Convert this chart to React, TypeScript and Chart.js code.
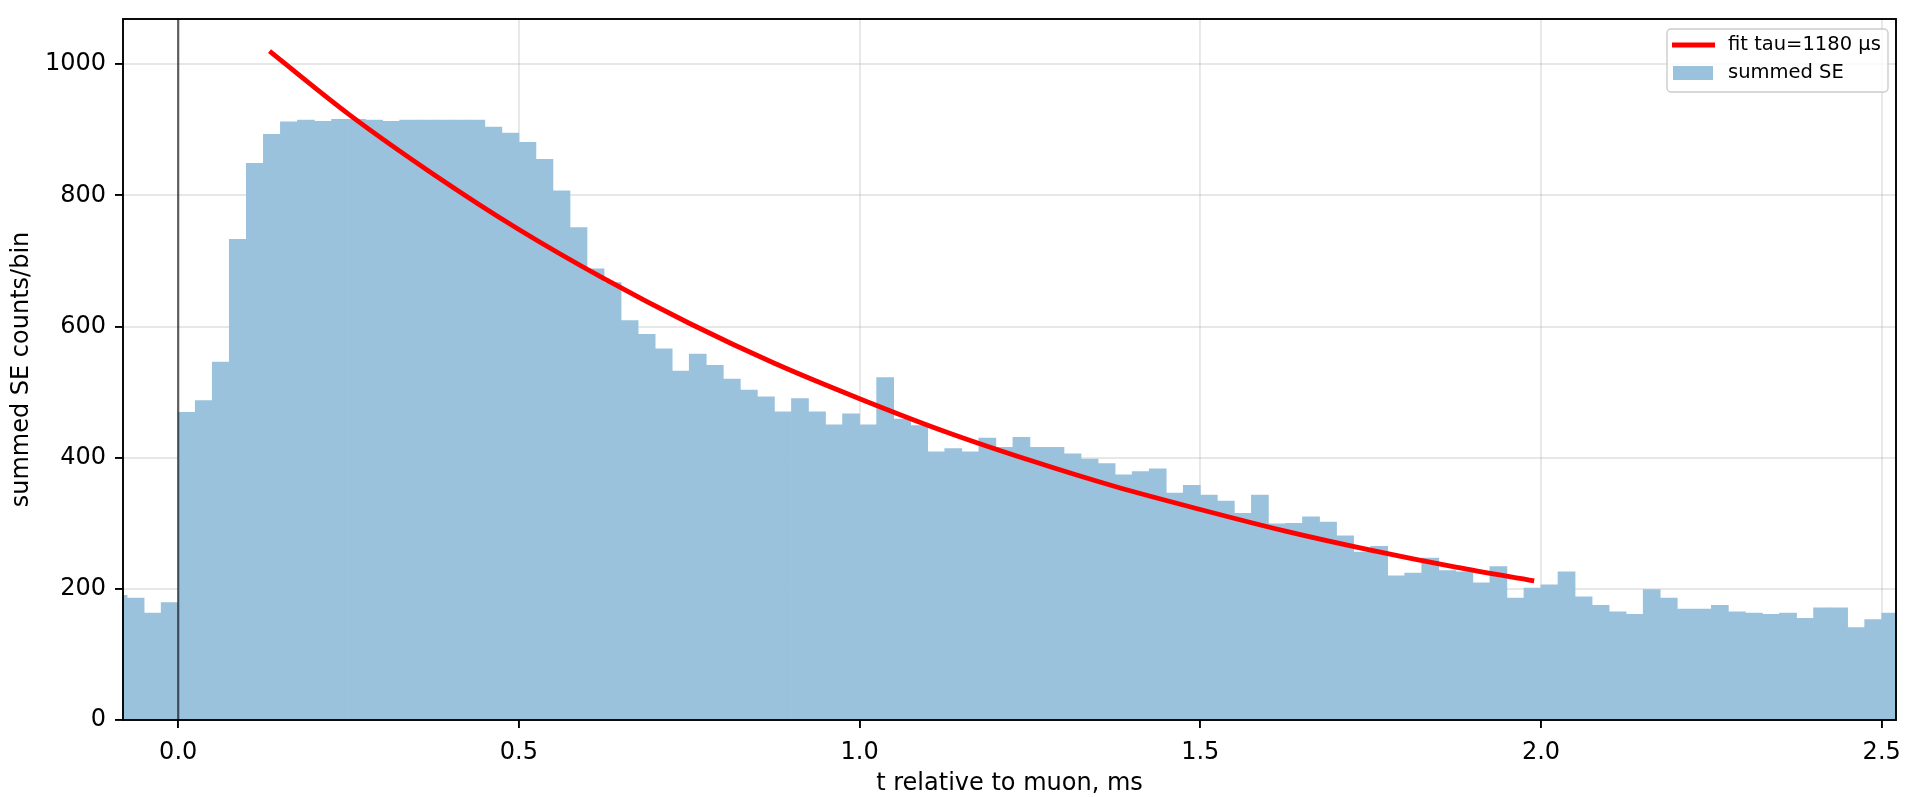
import React, { useEffect, useRef } from "react";
import { Chart, registerables } from "chart.js";

Chart.register(...registerables);

// ---- data ----
const BIN_START = -0.1; // ms, left edge of first histogram bin
const BIN_WIDTH = 0.025; // ms
const binCounts = [
  190, 186, 163, 179, 469, 487, 546, 733, 849, 893,
  912, 915, 913, 916, 916, 915, 913, 915, 915, 915,
  915, 915, 904, 895, 881, 855, 807, 751, 688, 667,
  609, 588, 566, 532, 558, 541, 520, 503, 493, 470,
  490, 470, 450, 467, 450, 522, 459, 449, 409, 414,
  409, 430, 416, 431, 416, 416, 406, 398, 391, 374,
  379, 383, 346, 358, 343, 334, 315, 343, 299, 300,
  310, 302, 281, 256, 265, 220, 224, 247, 228, 226,
  209, 234, 186, 201, 206, 226, 188, 175, 165, 161,
  199, 186, 169, 169, 175, 165, 163, 161, 163, 155,
  171, 171, 141, 153, 163,
];
const fitT = [0.134, 0.25, 0.375, 0.5, 0.625, 0.75, 0.875, 1.0, 1.125, 1.25, 1.375, 1.5, 1.625, 1.75, 1.875, 1.99];
const fitY = [1020, 924, 832, 748, 673, 605, 544, 490, 440, 396, 356, 321, 288, 259, 233, 212];
const xTickValues = [0, 0.5, 1.0, 1.5, 2.0, 2.5];
const yTickValues = [0, 200, 400, 600, 800, 1000];
const X_MIN = -0.081;
const X_MAX = 2.521;
const Y_MAX = 1069;
const MUON_T = 0;
const FIT_LABEL = "fit tau=1180 µs";
const HIST_LABEL = "summed SE";
const X_TITLE = "t relative to muon, ms";
const Y_TITLE = "summed SE counts/bin";

const FONT = "'DejaVu Sans', 'Liberation Sans', sans-serif";
const BAR_COLOR = "rgb(154,194,221)";
const FIT_COLOR = "#ff0000";
const GRID_COLOR = "rgba(176,176,176,0.3)";

const extrasPlugin = {
  id: "extras",
  afterDatasetsDraw(chart: any) {
    const { ctx, chartArea: a, scales } = chart;
    const px = scales.x.getPixelForValue(MUON_T);
    ctx.save();
    ctx.strokeStyle = "rgba(0,0,0,0.6)";
    ctx.lineWidth = 2.2;
    ctx.beginPath();
    ctx.moveTo(px, a.top);
    ctx.lineTo(px, a.bottom);
    ctx.stroke();
    ctx.restore();
  },
  afterDraw(chart: any) {
    const { ctx, chartArea: a } = chart;
    ctx.save();
    // frame (spines)
    ctx.strokeStyle = "#000";
    ctx.lineWidth = 1.9;
    ctx.strokeRect(a.left, a.top, a.right - a.left, a.bottom - a.top);

    // legend
    const bw = 221;
    const bh = 63;
    const bx = a.right - 8 - bw;
    const by = a.top + 10;
    ctx.beginPath();
    (ctx as any).roundRect(bx, by, bw, bh, 4);
    ctx.fillStyle = "rgba(255,255,255,0.8)";
    ctx.fill();
    ctx.strokeStyle = "rgb(204,204,204)";
    ctx.lineWidth = 1.4;
    ctx.stroke();

    const row1 = by + 16;
    const row2 = by + 44;
    ctx.strokeStyle = FIT_COLOR;
    ctx.lineWidth = 4.8;
    ctx.beginPath();
    ctx.moveTo(bx + 5, row1);
    ctx.lineTo(bx + 48, row1);
    ctx.stroke();
    ctx.fillStyle = BAR_COLOR;
    ctx.fillRect(bx + 6, row2 - 7, 40, 14);

    ctx.fillStyle = "#000";
    ctx.font = `19.5px ${FONT}`;
    ctx.textBaseline = "middle";
    ctx.textAlign = "left";
    ctx.fillText(FIT_LABEL, bx + 61, row1);
    ctx.fillText(HIST_LABEL, bx + 61, row2);
    ctx.restore();
  },
};

export default function App() {
  const ref = useRef<HTMLCanvasElement | null>(null);

  useEffect(() => {
    document.body.style.margin = "0";
    const canvas = ref.current;
    if (!canvas) return;

    const histData = binCounts.map((c, i) => ({
      x: BIN_START + (i + 0.5) * BIN_WIDTH,
      y: c,
    }));
    const fitData = fitT.map((t, i) => ({ x: t, y: fitY[i] }));

    const chart = new Chart(canvas, {
      type: "bar",
      data: {
        datasets: [
          {
            type: "line",
            label: FIT_LABEL,
            data: fitData,
            borderColor: FIT_COLOR,
            borderWidth: 4.8,
            pointRadius: 0,
            fill: false,
            cubicInterpolationMode: "monotone",
            order: 1,
          } as any,
          {
            type: "bar",
            label: HIST_LABEL,
            data: histData,
            backgroundColor: BAR_COLOR,
            borderWidth: 0,
            barPercentage: 1,
            categoryPercentage: 1,
            order: 2,
          } as any,
        ],
      },
      options: {
        responsive: false,
        animation: false,
        devicePixelRatio: 1,
        layout: { padding: { top: 19, right: 12, left: 0, bottom: 0 } },
        plugins: {
          legend: { display: false },
          tooltip: { enabled: false },
        },
        scales: {
          x: {
            type: "linear",
            min: X_MIN,
            max: X_MAX,
            offset: false,
            z: 1,
            afterBuildTicks: (scale: any) => {
              scale.ticks = xTickValues.map((v) => ({ value: v }));
            },
            afterFit: (scale: any) => {
              scale.height = 77;
              scale.paddingLeft = 0;
              scale.paddingRight = 0;
            },
            grid: {
              offset: false,
              color: GRID_COLOR,
              lineWidth: 1.9,
              tickColor: "#000",
              tickLength: 8,
              tickWidth: 1.9,
            },
            border: { display: false },
            ticks: {
              color: "#000",
              font: { family: FONT, size: 24 },
              padding: 10,
              maxRotation: 0,
              autoSkip: false,
              callback: (v: any) => Number(v).toFixed(1),
            },
            title: {
              display: true,
              text: X_TITLE,
              color: "#000",
              font: { family: FONT, size: 24, lineHeight: 1 },
              padding: { top: 0, bottom: 1 },
            },
          },
          y: {
            type: "linear",
            min: 0,
            max: Y_MAX,
            z: 1,
            afterBuildTicks: (scale: any) => {
              scale.ticks = yTickValues.map((v) => ({ value: v }));
            },
            afterFit: (scale: any) => {
              scale.width = 123;
              scale.paddingTop = 0;
              scale.paddingBottom = 0;
            },
            grid: {
              color: GRID_COLOR,
              lineWidth: 1.9,
              tickColor: "#000",
              tickLength: 8,
              tickWidth: 1.9,
            },
            border: { display: false },
            ticks: {
              color: "#000",
              font: { family: FONT, size: 24 },
              padding: 9,
              autoSkip: false,
              callback: (v: any) => String(v),
            },
            title: {
              display: true,
              text: Y_TITLE,
              color: "#000",
              font: { family: FONT, size: 24, lineHeight: 1 },
              padding: { top: 10, bottom: 0 },
            },
          },
        },
      },
      plugins: [extrasPlugin],
    } as any);

    return () => chart.destroy();
  }, []);

  return (
    <canvas
      ref={ref}
      width={1908}
      height={797}
      style={{ display: "block", width: "1908px", height: "797px" }}
    />
  );
}
